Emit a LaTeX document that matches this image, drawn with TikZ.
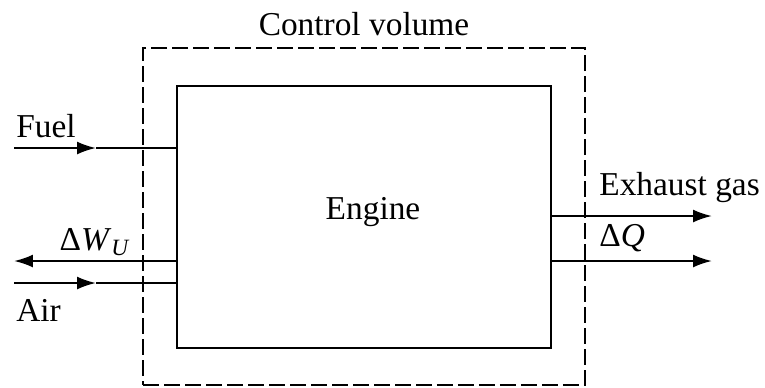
\documentclass[tikz,border=0pt]{standalone}
\usepackage{fontspec}
\setmainfont{Liberation Serif}
\usetikzlibrary{arrows.meta,positioning}

\begin{document}
\begin{tikzpicture}[x=0.02cm, y=-0.02cm, >={Latex[length=0.38cm, width=0.26cm]},
    every node/.style={font=\fontsize{19}{22}\selectfont, inner sep=0pt},
    flow/.style={line width=1.2pt}]
      \useasboundingbox (0,0) rectangle (765,387);
      % control volume and engine
      \node[draw, dash pattern=on 0.32cm off 0.1cm, line width=1.5pt, minimum width=8.84cm, minimum height=6.74cm] (cv) at (364,216.5) {};
      \node[above=0.22cm of cv.north] (cvl) {Control volume};
      \node[draw, line width=1.4pt, minimum width=7.48cm, minimum height=5.24cm] (eng) at (364,217) {};
      \node (engl) at (373,212) {Engine};
      % inlet side
      \coordinate (fin) at (14,148);
      \coordinate (fmid) at (96,148);
      \coordinate (win) at (14,261);
      \coordinate (ain) at (14,283);
      \coordinate (amid) at (96,283);
      \draw[flow, ->] (fin) -- (fmid);
      \draw[flow] (fmid) -- (eng.west |- fin);
      \draw[flow, ->] (eng.west |- win) -- (win);
      \draw[flow, ->] (ain) -- (amid);
      \draw[flow] (amid) -- (eng.west |- ain);
      \node[anchor=west] (fuel) at (16,126) {Fuel};
      \node (dw) at (95,242) {Δ\textit{W}\textsubscript{\textit{U}}};
      \node[anchor=west] (air) at (16,310) {Air};
      % outlet side
      \coordinate (gout) at (712,216);
      \coordinate (qout) at (712,261);
      \draw[flow, ->] (eng.east |- gout) -- (gout);
      \draw[flow, ->] (eng.east |- qout) -- (qout);
      \node[anchor=west] (gas) at (599,188) {Exhaust gas};
      \node[anchor=west] (dq) at (599,238) {Δ\textit{Q}};
    \end{tikzpicture}
\end{document}
